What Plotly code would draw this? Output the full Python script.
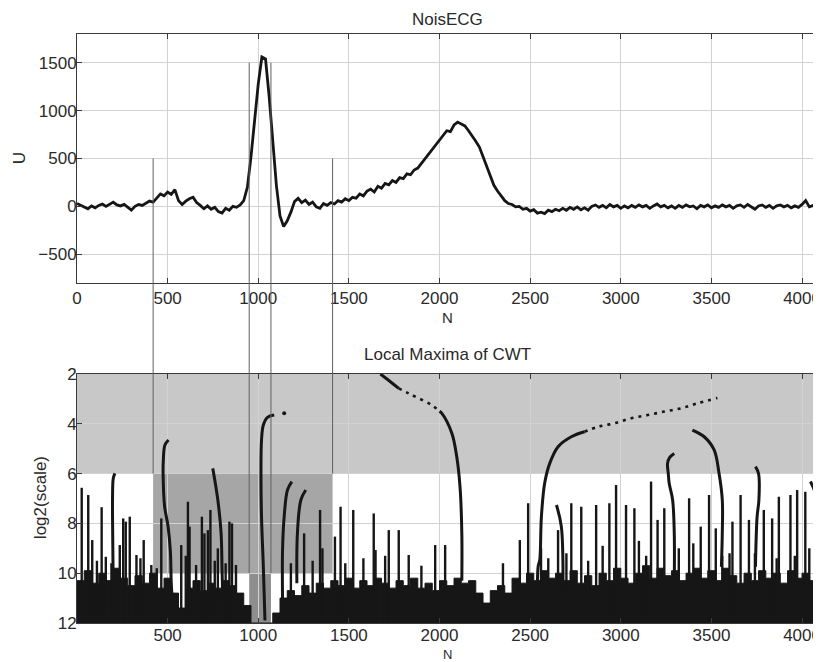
import plotly.graph_objects as go

# ---------------- data ----------------
ecg_u = [30, 10, -10, -25, 5, -15, 10, 25, 0, 20, 45, 15, 5, 20, -15, -40, 0, 20, 10, 30,
         55, 45, 90, 130, 110, 150, 125, 175, 60, 20, 55, 80, 95, 40, 10, -25, 5, -30, -10, -55,
         -70, -20, -40, 0, -10, 15, 60, 200, 520, 920, 1280, 1560, 1540, 1150, 700, 220, -100, -210, -150, -60,
         50, 85, 40, 65, 20, 45, -5, -20, 30, 10, 40, 25, 60, 45, 80, 60, 95, 85, 130, 110,
         160, 180, 150, 210, 190, 240, 225, 270, 250, 300, 290, 340, 330, 380, 400, 450, 500, 540, 600, 640,
         700, 740, 790, 780, 850, 880, 860, 840, 790, 740, 680, 620, 520, 400, 300, 220, 160, 110, 60, 30,
         20, -5, 0, -30, -20, -50, -35, -70, -60, -75, -40, -55, -30, -45, -20, -40, -10, -30, -5, -35,
         -15, -40, 0, 15, -10, 10, -15, 20, -5, 10, -20, 5, -15, 10, -10, 15, -5, 10, -20, 5,
         25, -5, 10, -15, 5, -20, 10, -10, 15, -5, 5, -25, 10, -5, 15, -15, 5, -10, 15, -5,
         10, -20, 5, 15, -10, 20, -5, -30, 5, 15, -10, 10, -20, 5, 15, -5, 10, -15, 5, -10,
         20, 60, -5, 10, -15]
ecg_step = 20
ecg_n = [i * ecg_step for i in range(len(ecg_u))]

band_x = [i * 40 for i in range(103)]
band_top = [10.3, 9.9, 10.4, 10.0, 10.3, 9.8, 10.2, 10.5, 10.1, 10.4, 10.0,
            10.6, 10.2, 10.8, 11.4, 10.6, 10.3, 10.7, 10.4, 10.6, 10.3, 10.5, 10.8, 11.3,
            12.0, 12.0, 12.0, 11.6, 11.0, 10.7, 10.9, 10.5, 10.8, 10.4, 10.6, 10.3, 10.5,
            10.2, 10.6, 10.3, 10.5, 10.2, 10.4, 10.6, 10.3, 10.5, 10.2, 10.6, 10.4, 10.7,
            10.3, 10.5, 10.2, 10.4, 10.3, 10.8, 11.2, 10.7, 10.5, 10.8, 10.2, 10.4, 10.0,
            10.3, 9.9, 10.2, 10.0, 10.3, 9.9, 10.4, 10.1, 10.5, 10.0, 10.3, 9.8, 10.2,
            10.4, 10.0, 9.7, 10.2, 9.8, 10.1, 9.9, 10.3, 10.0, 9.8, 10.2, 9.9, 10.3, 9.8,
            10.1, 10.4, 10.0, 10.3, 9.9, 10.2, 10.0, 10.4, 9.9, 10.2, 10.0, 10.3, 10.1]

spike_x = [26, 62, 84, 136, 159, 236, 255, 269, 291, 328, 368, 410, 465, 575, 612, 621, 657,
           689, 703, 722, 736, 777, 841, 855, 877, 1253, 1341, 1354, 1423, 1454, 1524, 1637,
           1647, 1720, 1775, 1830, 1976, 2031, 2443, 2489, 2654, 2727, 2782, 2864, 2937, 2974,
           3029, 3075, 3167, 3203, 3240, 3377, 3441, 3487, 3524, 3616, 3661, 3707, 3789, 3835,
           3872, 3936, 3973, 4018, 4073,
           110, 190, 350, 440, 600, 760, 820, 1180, 1300, 1480, 1580, 1700, 1900, 2350, 2560,
           2600, 2700, 2820, 2900, 3100, 3140, 3320, 3400, 3560, 3600, 3740, 3860, 3960, 4040]
spike_top = [6.57, 6.86, 8.67, 7.35, 9.34, 8.87, 7.8, 7.93, 7.73, 9.27, 8.67, 9.67, 7.8, 8.87,
             7.13, 8.13, 9.67, 7.73, 8.4, 8.27, 7.46, 9.0, 7.93, 8.0, 9.67, 8.4, 7.46, 9.0, 8.53,
             7.33, 7.46, 7.6, 9.07, 8.27, 8.27, 9.27, 8.87, 8.87, 8.67, 7.19, 8.27, 7.19, 7.33,
             7.26, 7.19, 6.46, 7.26, 7.39, 6.32, 7.86, 7.39, 6.99, 8.13, 6.86, 8.2, 7.93, 6.86,
             7.86, 7.46, 7.8, 6.93, 6.86, 6.66, 6.73, 8.4,
             9.5, 9.6, 9.4, 9.8, 9.3, 9.5, 9.6, 9.6, 9.5, 9.6, 9.4, 9.3, 9.7, 9.6, 9.0,
             9.4, 9.2, 9.5, 8.9, 8.7, 9.3, 9.0, 8.8, 9.3, 9.2, 9.2, 9.4, 9.3, 9.0]

# long maxima lines (x, log2 scale)
ridge_200 = [(209, 5.99), (200, 6.2), (196, 7.0), (197, 8.5), (200, 10.5), (202, 12.0)]
ridge_500 = [(505, 4.65), (485, 4.85), (476, 5.5), (475, 6.0), (483, 7.3), (502, 8.1),
             (515, 9.1), (520, 10.4), (529, 11.5)]
ridge_750 = [(749, 5.79), (777, 7.06), (795, 8.4), (800, 9.74), (804, 11.1)]
ridge_1030 = [(1088, 3.65), (1051, 3.74), (1028, 4.05), (1018, 4.65), (1015, 5.99),
              (1018, 7.73), (1028, 9.74), (1037, 11.9)]
ridge_1150 = [(1185, 6.32), (1161, 6.66), (1143, 7.73), (1134, 9.07), (1134, 11.08)]
ridge_1230 = [(1262, 6.66), (1235, 7.06), (1216, 8.4), (1213, 10.4)]
ridge_2100_solid_a = [(1674, 2.0), (1729, 2.31), (1775, 2.58)]
ridge_2100_dots = [(1775, 2.58), (1830, 2.78), (1866, 2.91), (1958, 3.25), (2000, 3.5)]
ridge_2100_solid_b = [(2000, 3.5), (2013, 3.58), (2068, 4.38), (2095, 5.32), (2113, 6.52),
                      (2123, 8.4), (2123, 10.3)]
ridge_2600_solid = [(2540, 11.5), (2544, 9.74), (2553, 9.47), (2562, 7.73), (2580, 6.39),
                    (2608, 5.59), (2654, 4.92), (2727, 4.52), (2800, 4.32)]
ridge_2600_dots = [(2800, 4.32), (2874, 4.12), (2965, 3.98), (3057, 3.78), (3148, 3.65),
                   (3240, 3.51), (3331, 3.38), (3423, 3.18), (3533, 2.96)]
ridge_3280 = [(3295, 5.19), (3270, 5.35), (3258, 5.59), (3262, 6.0), (3267, 6.39),
              (3286, 7.06), (3295, 8.4), (3295, 10.4)]
ridge_3450 = [(3395, 4.25), (3460, 4.52), (3515, 5.05), (3542, 5.99), (3560, 7.06),
              (3560, 8.4), (3555, 9.74)]
ridge_3750 = [(3743, 5.72), (3760, 6.0), (3762, 7.06), (3752, 7.73), (3743, 9.74)]
ridge_2650 = [(2645, 7.26), (2672, 8.13), (2681, 10.8)]
ridge_4050 = [(4046, 6.32), (4073, 6.8), (4080, 8.0)]
lone_dot = [(1143, 3.58)]

solid_ridges = [ridge_200, ridge_500, ridge_750, ridge_1030, ridge_1150, ridge_1230,
                ridge_2100_solid_a, ridge_2100_solid_b, ridge_2600_solid, ridge_3280,
                ridge_3450, ridge_3750, ridge_2650, ridge_4050]
dotted_ridges = [ridge_2100_dots, ridge_2600_dots]

top_ticks = [0, 500, 1000, 1500, 2000, 2500, 3000, 3500, 4000]
bottom_ticks = [500, 1000, 1500, 2000, 2500, 3000, 3500, 4000]
u_ticks = [-500, 0, 500, 1000, 1500]
s_ticks = [2, 4, 6, 8, 10, 12]

# marked regions: (x0, x1, s0, s1)
light_region = (0, 4096, 2, 6)
mid_region = (420, 1410, 6, 10)
dark_region = (950, 1070, 10, 12)
# connecting lines: (x, U level in top panel, scale level in bottom panel)
link_lines = [(420, 500, 6), (1410, 500, 6), (950, 1500, 10), (1070, 1500, 10)]

# ---------------- geometry ----------------
OFF = 8                      # page offset of the figure (body margin)
W, H = 813, 662
ML, MR, MT = 77 - OFF, 0, 34 - OFF
PB = 623 - OFF               # bottom of lower panel (figure px)
MB = H - PB
PW, PH = W - ML - MR, H - MT - MB
top_dom = [(PB - (283 - OFF)) / PH, 1.0]
bot_dom = [0.0, (PB - (374 - OFF)) / PH]
xr = [0, 4088]
ur = [-800, 1800]
sr = [12, 2]

def top_paper(v):
    return top_dom[0] + (v - ur[0]) / (ur[1] - ur[0]) * (top_dom[1] - top_dom[0])

def bot_paper(s):
    return bot_dom[0] + (sr[0] - s) / (sr[0] - sr[1]) * (bot_dom[1] - bot_dom[0])

def px_x(px):
    return (px - OFF - ML) / PW

def px_y(py):
    return (PB - (py - OFF)) / PH

FONT = "Liberation Sans, Arial, sans-serif"
TXT = "#2a2a2a"
INK = "#161616"

fig = go.Figure()

fig.add_trace(go.Scatter(x=ecg_n, y=ecg_u, mode="lines", xaxis="x", yaxis="y",
                         line=dict(color=INK, width=2.8), showlegend=False, hoverinfo="skip"))

# dense band of short maxima lines
fig.add_trace(go.Scatter(x=[0, 4096], y=[12, 12], mode="lines", xaxis="x2", yaxis="y2",
                         line=dict(color=INK, width=0), showlegend=False, hoverinfo="skip"))
fig.add_trace(go.Scatter(x=band_x + [4096], y=band_top + [band_top[-1]], mode="lines",
                         xaxis="x2", yaxis="y2", fill="tonexty", fillcolor=INK,
                         line=dict(color=INK, width=1, shape="hv"), showlegend=False,
                         hoverinfo="skip"))

sx, sy = [], []
for x, t in zip(spike_x, spike_top):
    sx += [x, x, None]
    sy += [12, t, None]
fig.add_trace(go.Scatter(x=sx, y=sy, mode="lines", xaxis="x2", yaxis="y2",
                         line=dict(color=INK, width=2.4), showlegend=False, hoverinfo="skip"))

for r in solid_ridges:
    fig.add_trace(go.Scatter(x=[p[0] for p in r], y=[p[1] for p in r], mode="lines",
                             xaxis="x2", yaxis="y2", line=dict(color=INK, width=3),
                             line_shape="spline", showlegend=False, hoverinfo="skip"))
for r in dotted_ridges:
    fig.add_trace(go.Scatter(x=[p[0] for p in r], y=[p[1] for p in r], mode="lines",
                             xaxis="x2", yaxis="y2",
                             line=dict(color=INK, width=2.6, dash="3px,5px"),
                             line_shape="spline", showlegend=False, hoverinfo="skip"))
fig.add_trace(go.Scatter(x=[p[0] for p in lone_dot], y=[p[1] for p in lone_dot], mode="markers",
                         xaxis="x2", yaxis="y2", marker=dict(color=INK, size=4),
                         showlegend=False, hoverinfo="skip"))

shapes = []
for (x0, x1, s0, s1), col in [(light_region, "#c8c8c8"), (mid_region, "#a6a6a6"),
                              (dark_region, "#8e8e8e")]:
    shapes.append(dict(type="rect", xref="x2", yref="y2", x0=x0, x1=x1, y0=s0, y1=s1,
                       fillcolor=col, line=dict(width=0), layer="below"))
for x, uv, sv in link_lines:
    shapes.append(dict(type="line", xref="x", yref="paper", x0=x, x1=x,
                       y0=top_paper(uv), y1=bot_paper(sv),
                       line=dict(color="#606060", width=1), layer="above"))

axis_common = dict(showline=True, linecolor="#3a3a3a", linewidth=1, mirror="ticks",
                   ticks="inside", ticklen=5, tickcolor="#3a3a3a",
                   showgrid=True, gridcolor="#d2d2d2", gridwidth=1,
                   zeroline=False, tickfont=dict(family=FONT, size=17, color=TXT))

def label(text, px, py, size=17, angle=0):
    return dict(text=text, x=px_x(px), y=px_y(py), xref="paper", yref="paper",
                xanchor="center", yanchor="middle", textangle=angle, showarrow=False,
                font=dict(family=FONT, size=size, color=TXT))

fig.update_layout(
    width=W, height=H, margin=dict(l=ML, r=MR, t=MT, b=MB),
    paper_bgcolor="white", plot_bgcolor="white", showlegend=False,
    xaxis=dict(axis_common, domain=[0, 1], range=xr, tickvals=top_ticks, anchor="y",
               ticklabeloverflow="allow"),
    yaxis=dict(axis_common, domain=top_dom, range=ur, tickvals=u_ticks, anchor="x",
               ticklabelstandoff=-4),
    xaxis2=dict(axis_common, domain=[0, 1], range=xr, tickvals=bottom_ticks, anchor="y2",
                ticklabeloverflow="allow", ticklabelstandoff=-3),
    yaxis2=dict(axis_common, domain=bot_dom, range=sr, tickvals=s_ticks, anchor="x2",
                ticklabelstandoff=-4),
    shapes=shapes,
    annotations=[
        label("NoisECG", 449, 19),
        label("Local Maxima of CWT", 449, 355),
        label("N", 449, 317, size=15),
        label("N", 449, 654, size=13),
        label("U", 19, 158, angle=-90),
        label("log2(scale)", 40, 498, angle=-90),
    ],
)

fig.write_html("out.html")
